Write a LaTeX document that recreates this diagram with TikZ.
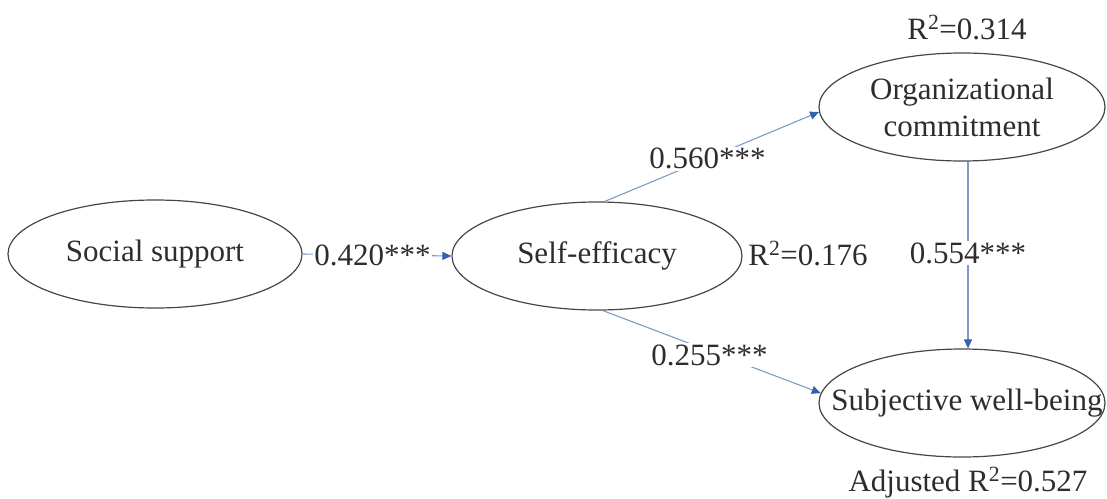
\documentclass[tikz,border=0pt]{standalone}
\usepackage{fontspec}
\setmainfont{Liberation Serif}
\usetikzlibrary{shapes.geometric,arrows.meta}
\definecolor{txtgray}{RGB}{45,45,45}
\definecolor{ellgray}{RGB}{70,70,70}
\definecolor{linkblue}{RGB}{125,155,200}
\definecolor{tipblue}{RGB}{55,95,175}
\begin{document}
\begin{tikzpicture}[x=1pt,y=-1pt,
  font=\fontsize{31}{37}\selectfont, text=txtgray,
  var/.style={ellipse, draw=ellgray, line width=1.2pt, inner sep=0pt, align=center},
  link/.style={draw=linkblue, line width=1.1pt, -{Triangle[length=9pt,width=8pt,color=tipblue]}},
  coef/.style={fill=white, inner sep=1.5pt},
  rsq/.style={anchor=base, inner sep=0pt}]
\useasboundingbox (0,0) rectangle (1107,498);
\node[var, minimum width=294pt, minimum height=108pt] (ss) at (155,254) {\makebox[0pt]{Social support}};
\node[var, minimum width=290pt, minimum height=108pt] (se) at (597,256) {\makebox[0pt]{Self-efficacy}};
\node[var, minimum width=286pt, minimum height=108pt] (oc) at (962,107) {Organizational\\commitment};
\node[var, minimum width=286pt, minimum height=108pt] (swb) at (962,403) {\makebox[0pt]{\hspace{10pt}Subjective well-being}};
\node[rsq] (r1) at (808,265) {R\textsuperscript{2}=0.176};
\node[rsq] (r2) at (967,39) {R\textsuperscript{2}=0.314};
\node[rsq] (r3) at (968,491) {Adjusted R\textsuperscript{2}=0.527};
\draw[link] (ss.east) -- node[coef, pos=0.47] {0.420***} (se.west);
\draw[link] (se.82) -- node[coef, pos=0.48] {0.560***} (oc.182);
\draw[link] (se.-84) -- node[coef, pos=0.49, yshift=-4pt] {0.255***} (swb.176);
\draw[link] ([xshift=6pt]oc.south) -- node[coef, pos=0.49] {0.554***} ([xshift=6pt]swb.north);
\end{tikzpicture}
\end{document}
